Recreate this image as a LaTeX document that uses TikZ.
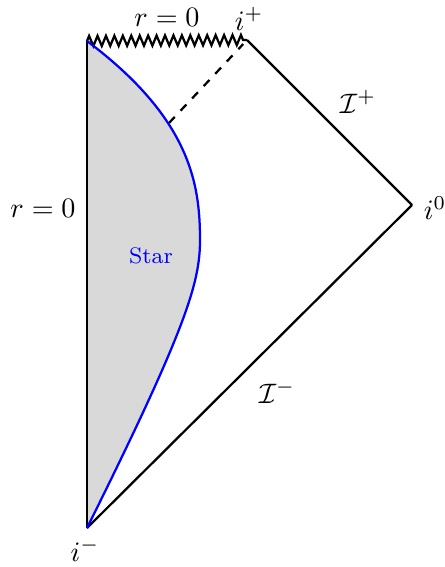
\documentclass[tikz,border=0pt]{standalone}
\usepackage{amsmath}
\usetikzlibrary{positioning,decorations.pathmorphing}

\begin{document}
\begin{tikzpicture}[
    x=0.0125cm, y=-0.0125cm,
    edge/.style={thick},
    singular/.style={thick, decorate, decoration={zigzag, segment length=3pt, amplitude=1.8pt}},
    surface/.style={thick, blue},
    horizon/.style={thick, dashed, shorten >=2pt},
    starfill/.style={fill=gray!30}
]
\useasboundingbox (0,0) rectangle (444,567);

% Ecken des Diagramms
\coordinate (origin) at (87,41);
\coordinate (ip) at (247,40);
\coordinate (izero) at (412,205);
\coordinate (im) at (87,528);
\coordinate (hz) at (169,123);
\coordinate (smax) at (200,240);

% Stern
\fill[starfill] (im) .. controls (187,327) and (200,282) .. (smax)
    .. controls (200,185) and (191,119) .. (origin) -- cycle;

\draw[edge] (im) -- (origin);
\draw[singular] (origin) -- (ip);
\draw[edge] (ip) -- (izero);
\draw[edge] (izero) -- (im);
\draw[horizon] (hz) -- (ip);

\draw[surface] (im) .. controls (187,327) and (200,282) .. (smax)
    .. controls (200,185) and (191,119) .. (origin);

% Beschriftungen
\node (rtop) at (167,17) {$r=0$};
\node (iplus) at (249,19) {$i^+$};
\node (rleft) at (43,208) {$r=0$};
\node (scriplus) at (358,102) {$\mathcal{I}^+$};
\node (scriminus) at (277,392) {$\mathcal{I}^-$};
\node (izerolab) at (435,208) {$i^0$};
\node (iminus) at (85,550) {$i^-$};
\node[blue, font=\footnotesize] (star) at (151,256) {Star};

\end{tikzpicture}
\end{document}
